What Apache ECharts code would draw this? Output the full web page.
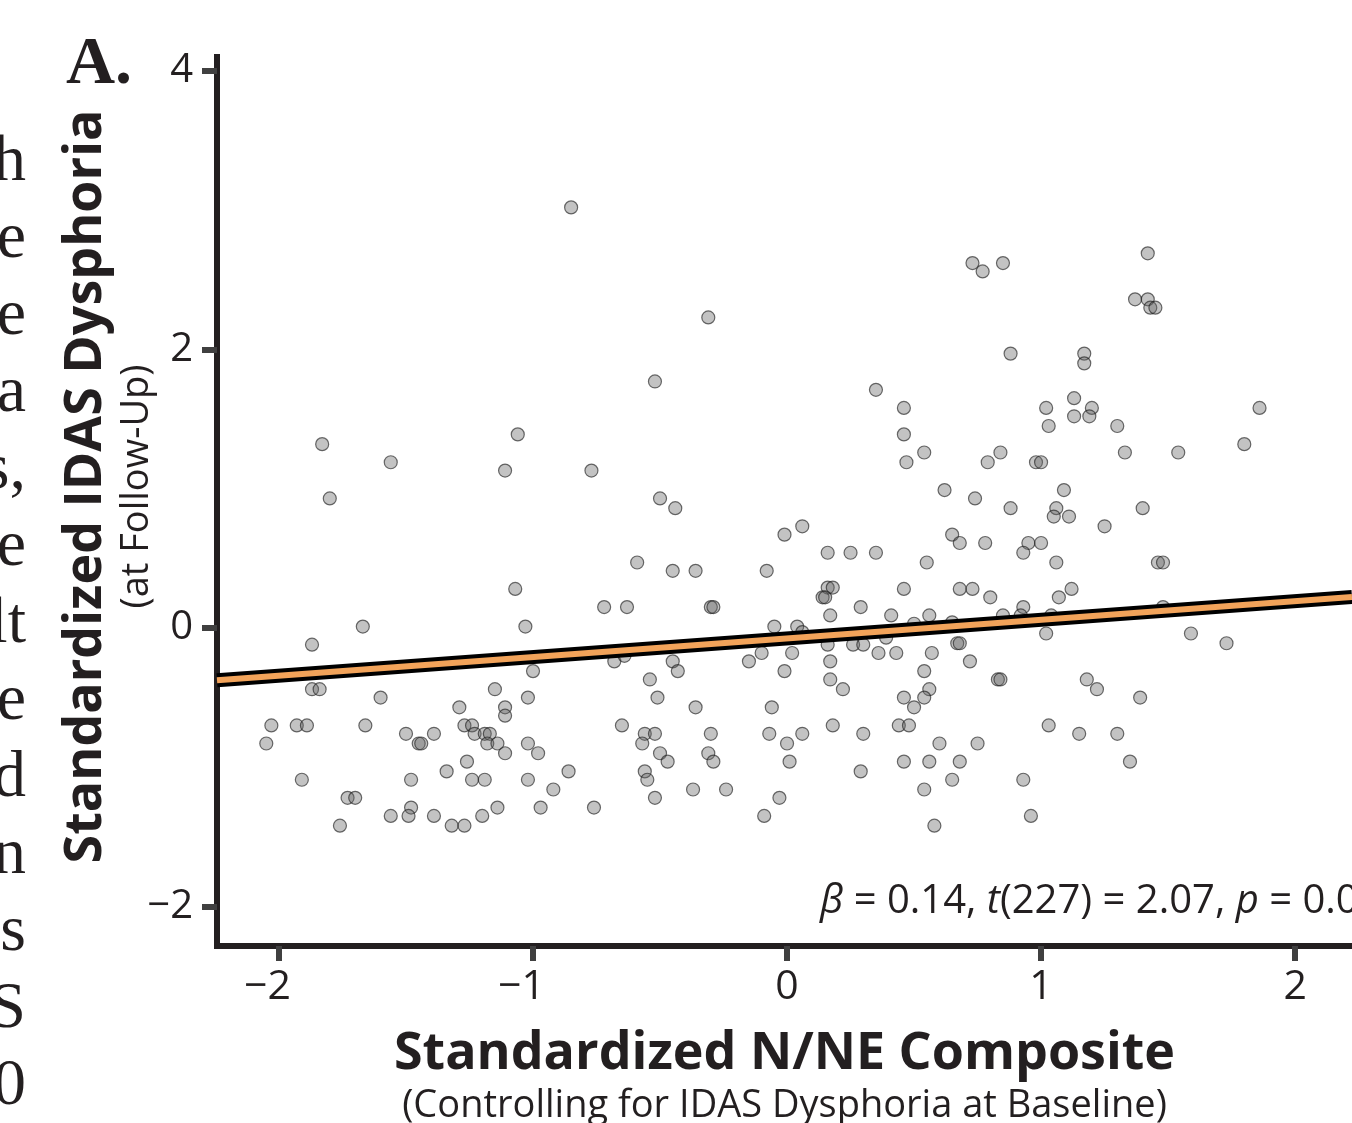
<!DOCTYPE html>
<html>
<head>
<meta charset="utf-8">
<script src="https://cdn.jsdelivr.net/npm/echarts@6/dist/echarts.min.js"></script>
<style>
  html, body { margin: 0; padding: 0; background: #ffffff; }
  #chart { width: 1352px; height: 1123px; }
</style>
</head>
<body>
<div id="chart"></div>
<script>
// ---- data ----
const xVals = [
  -0.85,-0.52,-1.83,-1.56,-1.80,-1.06,-1.11,-0.77,-0.50,-0.59,-0.45,-0.36,-1.07,-0.72,-0.63,-1.67,-1.03,-1.87,-0.68,-1.00,
  -0.64,-0.54,-1.87,-1.84,-1.60,-1.15,-1.02,-0.51,-1.29,-1.11,-1.11,-2.03,-1.93,-1.89,-1.66,-1.27,-1.24,-0.65,-1.50,-1.45,
  -1.44,-1.39,-1.23,-1.19,-1.17,-1.18,-1.14,-1.11,-1.02,-0.98,-0.56,-0.52,-0.57,-0.50,-0.47,-2.05,-1.26,-1.34,-1.91,-1.48,
  -1.24,-1.19,-1.02,-0.86,-0.56,-0.55,-0.92,-0.52,-1.73,-1.70,-1.48,-1.49,-1.56,-1.39,-1.20,-1.14,-0.97,-0.76,-1.76,-1.32,
  -1.27,
  0.16,0.25,0.35,0.55,-0.08,0.16,0.18,0.14,0.15,0.46,0.68,0.73,0.80,0.85,-0.30,-0.29,0.29,0.17,0.41,0.56,
  -0.05,0.04,0.06,0.50,0.65,0.39,0.16,0.26,0.30,0.67,0.68,-0.45,-0.43,-0.15,-0.10,0.02,-0.01,0.17,0.36,0.43,
  0.57,0.72,0.83,0.54,0.17,0.22,0.56,0.54,0.46,0.50,-0.36,-0.06,0.18,0.44,0.48,-0.30,-0.07,0.06,0.00,0.30,
  0.60,0.75,-0.31,-0.29,0.01,0.46,0.56,0.68,0.29,0.65,-0.37,-0.24,-0.03,0.54,-0.09,0.58,
  -0.31,0.73,0.77,0.85,0.88,0.35,0.46,0.46,0.47,0.54,0.79,0.84,0.62,0.74,0.88,-0.44,-0.01,0.06,0.65,0.68,0.78,
  1.42,1.37,1.42,1.43,1.45,1.17,1.17,1.02,1.13,1.13,1.20,1.19,1.03,1.30,1.86,1.80,1.33,1.54,0.98,1.00,
  1.09,1.06,1.05,1.11,1.25,1.40,0.95,1.00,0.93,1.06,1.46,1.48,1.12,1.07,0.93,0.92,1.04,1.48,1.02,1.59,
  1.73,0.84,1.18,1.22,1.39,1.03,1.15,1.30,1.35,0.93,0.96
];
const yVals = [
  3.02,1.77,1.32,1.19,0.93,1.39,1.13,1.13,0.93,0.47,0.41,0.41,0.28,0.15,0.15,0.01,0.01,-0.12,-0.24,-0.31,
  -0.20,-0.37,-0.44,-0.44,-0.50,-0.44,-0.50,-0.50,-0.57,-0.57,-0.63,-0.70,-0.70,-0.70,-0.70,-0.70,-0.70,-0.70,-0.76,-0.83,
  -0.83,-0.76,-0.76,-0.76,-0.76,-0.83,-0.83,-0.90,-0.83,-0.90,-0.76,-0.76,-0.83,-0.90,-0.96,-0.83,-0.96,-1.03,-1.09,-1.09,
  -1.09,-1.09,-1.09,-1.03,-1.03,-1.09,-1.16,-1.22,-1.22,-1.22,-1.29,-1.35,-1.35,-1.35,-1.35,-1.29,-1.29,-1.29,-1.42,-1.42,
  -1.42,
  0.54,0.54,0.54,0.47,0.41,0.29,0.29,0.22,0.22,0.28,0.28,0.28,0.22,0.09,0.15,0.15,0.15,0.09,0.09,0.09,
  0.01,0.01,-0.03,0.03,0.04,-0.07,-0.12,-0.12,-0.12,-0.11,-0.11,-0.24,-0.31,-0.24,-0.18,-0.18,-0.31,-0.24,-0.18,-0.18,
  -0.18,-0.24,-0.37,-0.31,-0.37,-0.44,-0.44,-0.50,-0.50,-0.57,-0.57,-0.57,-0.70,-0.70,-0.70,-0.76,-0.76,-0.76,-0.83,-0.76,
  -0.83,-0.83,-0.90,-0.96,-0.96,-0.96,-0.96,-0.96,-1.03,-1.09,-1.16,-1.16,-1.22,-1.16,-1.35,-1.42,
  2.23,2.62,2.56,2.62,1.97,1.71,1.58,1.39,1.19,1.26,1.19,1.26,0.99,0.93,0.86,0.86,0.67,0.73,0.67,0.61,0.61,
  2.69,2.36,2.36,2.30,2.30,1.97,1.90,1.58,1.65,1.52,1.58,1.52,1.45,1.45,1.58,1.32,1.26,1.26,1.19,1.19,
  0.99,0.86,0.80,0.80,0.73,0.86,0.61,0.61,0.54,0.47,0.47,0.47,0.28,0.22,0.15,0.09,0.09,0.15,-0.04,-0.04,
  -0.11,-0.37,-0.37,-0.44,-0.50,-0.70,-0.76,-0.76,-0.96,-1.09,-1.35
];
// fitted regression line endpoints (x, y)
const fitX = [-2.244, 2.224];
const fitY = [-0.375, 0.222];

const xTicks = [-2, -1, 0, 1, 2];
const yTicks = [-2, 0, 2, 4];

const xTitle = 'Standardized N/NE Composite';
const xSubtitle = '(Controlling for IDAS Dysphoria at Baseline)';
const yTitle = 'Standardized IDAS Dysphoria';
const ySubtitle = '(at Follow-Up)';
const statText = '{i|β} = 0.14, {i|t}(227) = 2.07, {i|p} = 0.04';
const panelLabel = 'A.';
// line endings of the neighbouring text column (cropped)
const sideText = ['h', 'e', 'e', 'a', 's,', 'e', 'lt', 'e', 'd', 'n', 's', 'S', '0'];

// ---- chart ----
const FONT = '"Open Sans", "Noto Sans", sans-serif';
const INK = '#231f20';

const points = xVals.map((x, i) => [x, yVals[i]]);
const fitLine = fitX.map((x, i) => [x, fitY[i]]);

const sideGraphics = sideText.map((t, i) => ({
  type: 'text',
  x: 26,
  y: 163 + i * 77,
  style: {
    text: t,
    fill: INK,
    fontFamily: '"Liberation Serif", serif',
    fontSize: 66,
    align: 'right',
    verticalAlign: 'middle'
  }
}));

const chart = echarts.init(document.getElementById('chart'), null, { renderer: 'canvas' });
chart.setOption({
  animation: false,
  backgroundColor: '#ffffff',
  grid: { left: 217, right: 0, top: 57, bottom: 177, containLabel: false, outerBoundsMode: 'none' },
  xAxis: {
    type: 'value',
    min: -2.244,
    max: 2.224,
    splitLine: { show: false },
    axisLine: { show: true, onZero: false, lineStyle: { color: INK, width: 6, cap: 'square' } },
    axisTick: { show: true, length: 15, customValues: xTicks, lineStyle: { color: '#404040', width: 6 } },
    axisLabel: {
      customValues: xTicks,
      margin: 21,
      color: INK,
      fontFamily: FONT,
      fontSize: 41,
      formatter: function (v) {
        if (v < 0) return '{d|\u2212' + Math.abs(v) + '}{s| }';
        return '{d|' + v + '}';
      },
      rich: {
        d: { fontFamily: FONT, fontSize: 41, color: INK },
        s: { width: 23, fontSize: 41 }
      }
    },
    name: '{a|' + xTitle + '}\n{b|' + xSubtitle + '}',
    nameLocation: 'middle',
    nameGap: 80,
    nameMoveOverlap: false,
    nameTextStyle: {
      rich: {
        a: { fontFamily: FONT, fontWeight: 'bold', fontSize: 52, lineHeight: 56, color: INK },
        b: { fontFamily: FONT, fontSize: 38, lineHeight: 48, color: INK }
      }
    }
  },
  yAxis: {
    type: 'value',
    min: -2.284,
    max: 4.1,
    splitLine: { show: false },
    axisLine: { show: true, onZero: false, lineStyle: { color: INK, width: 6, cap: 'square' } },
    axisTick: { show: true, length: 15, customValues: yTicks, lineStyle: { color: '#404040', width: 6 } },
    axisLabel: {
      customValues: yTicks,
      margin: 24,
      color: INK,
      fontFamily: FONT,
      fontSize: 40,
      formatter: function (v) { return v < 0 ? '\u2212' + Math.abs(v) : String(v); }
    },
    name: '{a|' + yTitle + '}\n{b|' + ySubtitle + '}',
    nameLocation: 'middle',
    nameRotate: 90,
    nameGap: 58,
    nameMoveOverlap: false,
    nameTextStyle: {
      padding: [0, 0, 0, 30],
      rich: {
        a: { fontFamily: FONT, fontWeight: 'bold', fontSize: 52, lineHeight: 58, color: INK },
        b: { fontFamily: FONT, fontSize: 38, lineHeight: 44, color: INK }
      }
    }
  },
  series: [
    {
      type: 'scatter',
      data: points,
      symbol: 'circle',
      symbolSize: 13,
      itemStyle: {
        color: 'rgba(100,100,100,0.48)',
        borderColor: 'rgba(30,30,30,0.8)',
        borderWidth: 1.2
      },
      z: 2
    },
    {
      type: 'line',
      data: fitLine,
      symbol: 'none',
      lineStyle: { color: '#000000', width: 14 },
      z: 3,
      silent: true
    },
    {
      type: 'line',
      data: fitLine,
      symbol: 'none',
      lineStyle: { color: '#f2a35a', width: 6 },
      z: 4,
      silent: true
    }
  ],
  graphic: [
    {
      type: 'text',
      x: 820,
      y: 902,
      z: 10,
      style: {
        text: statText,
        fill: INK,
        fontFamily: FONT,
        fontSize: 40,
        align: 'left',
        verticalAlign: 'middle',
        rich: {
          i: { fontFamily: FONT, fontSize: 40, fontStyle: 'italic', fill: INK }
        }
      }
    },
    {
      type: 'text',
      x: 66,
      y: 65,
      style: {
        text: panelLabel,
        fill: INK,
        fontFamily: '"Liberation Serif", serif',
        fontWeight: 'bold',
        fontSize: 68,
        align: 'left',
        verticalAlign: 'middle'
      }
    }
  ].concat(sideGraphics)
});
</script>
</body>
</html>
